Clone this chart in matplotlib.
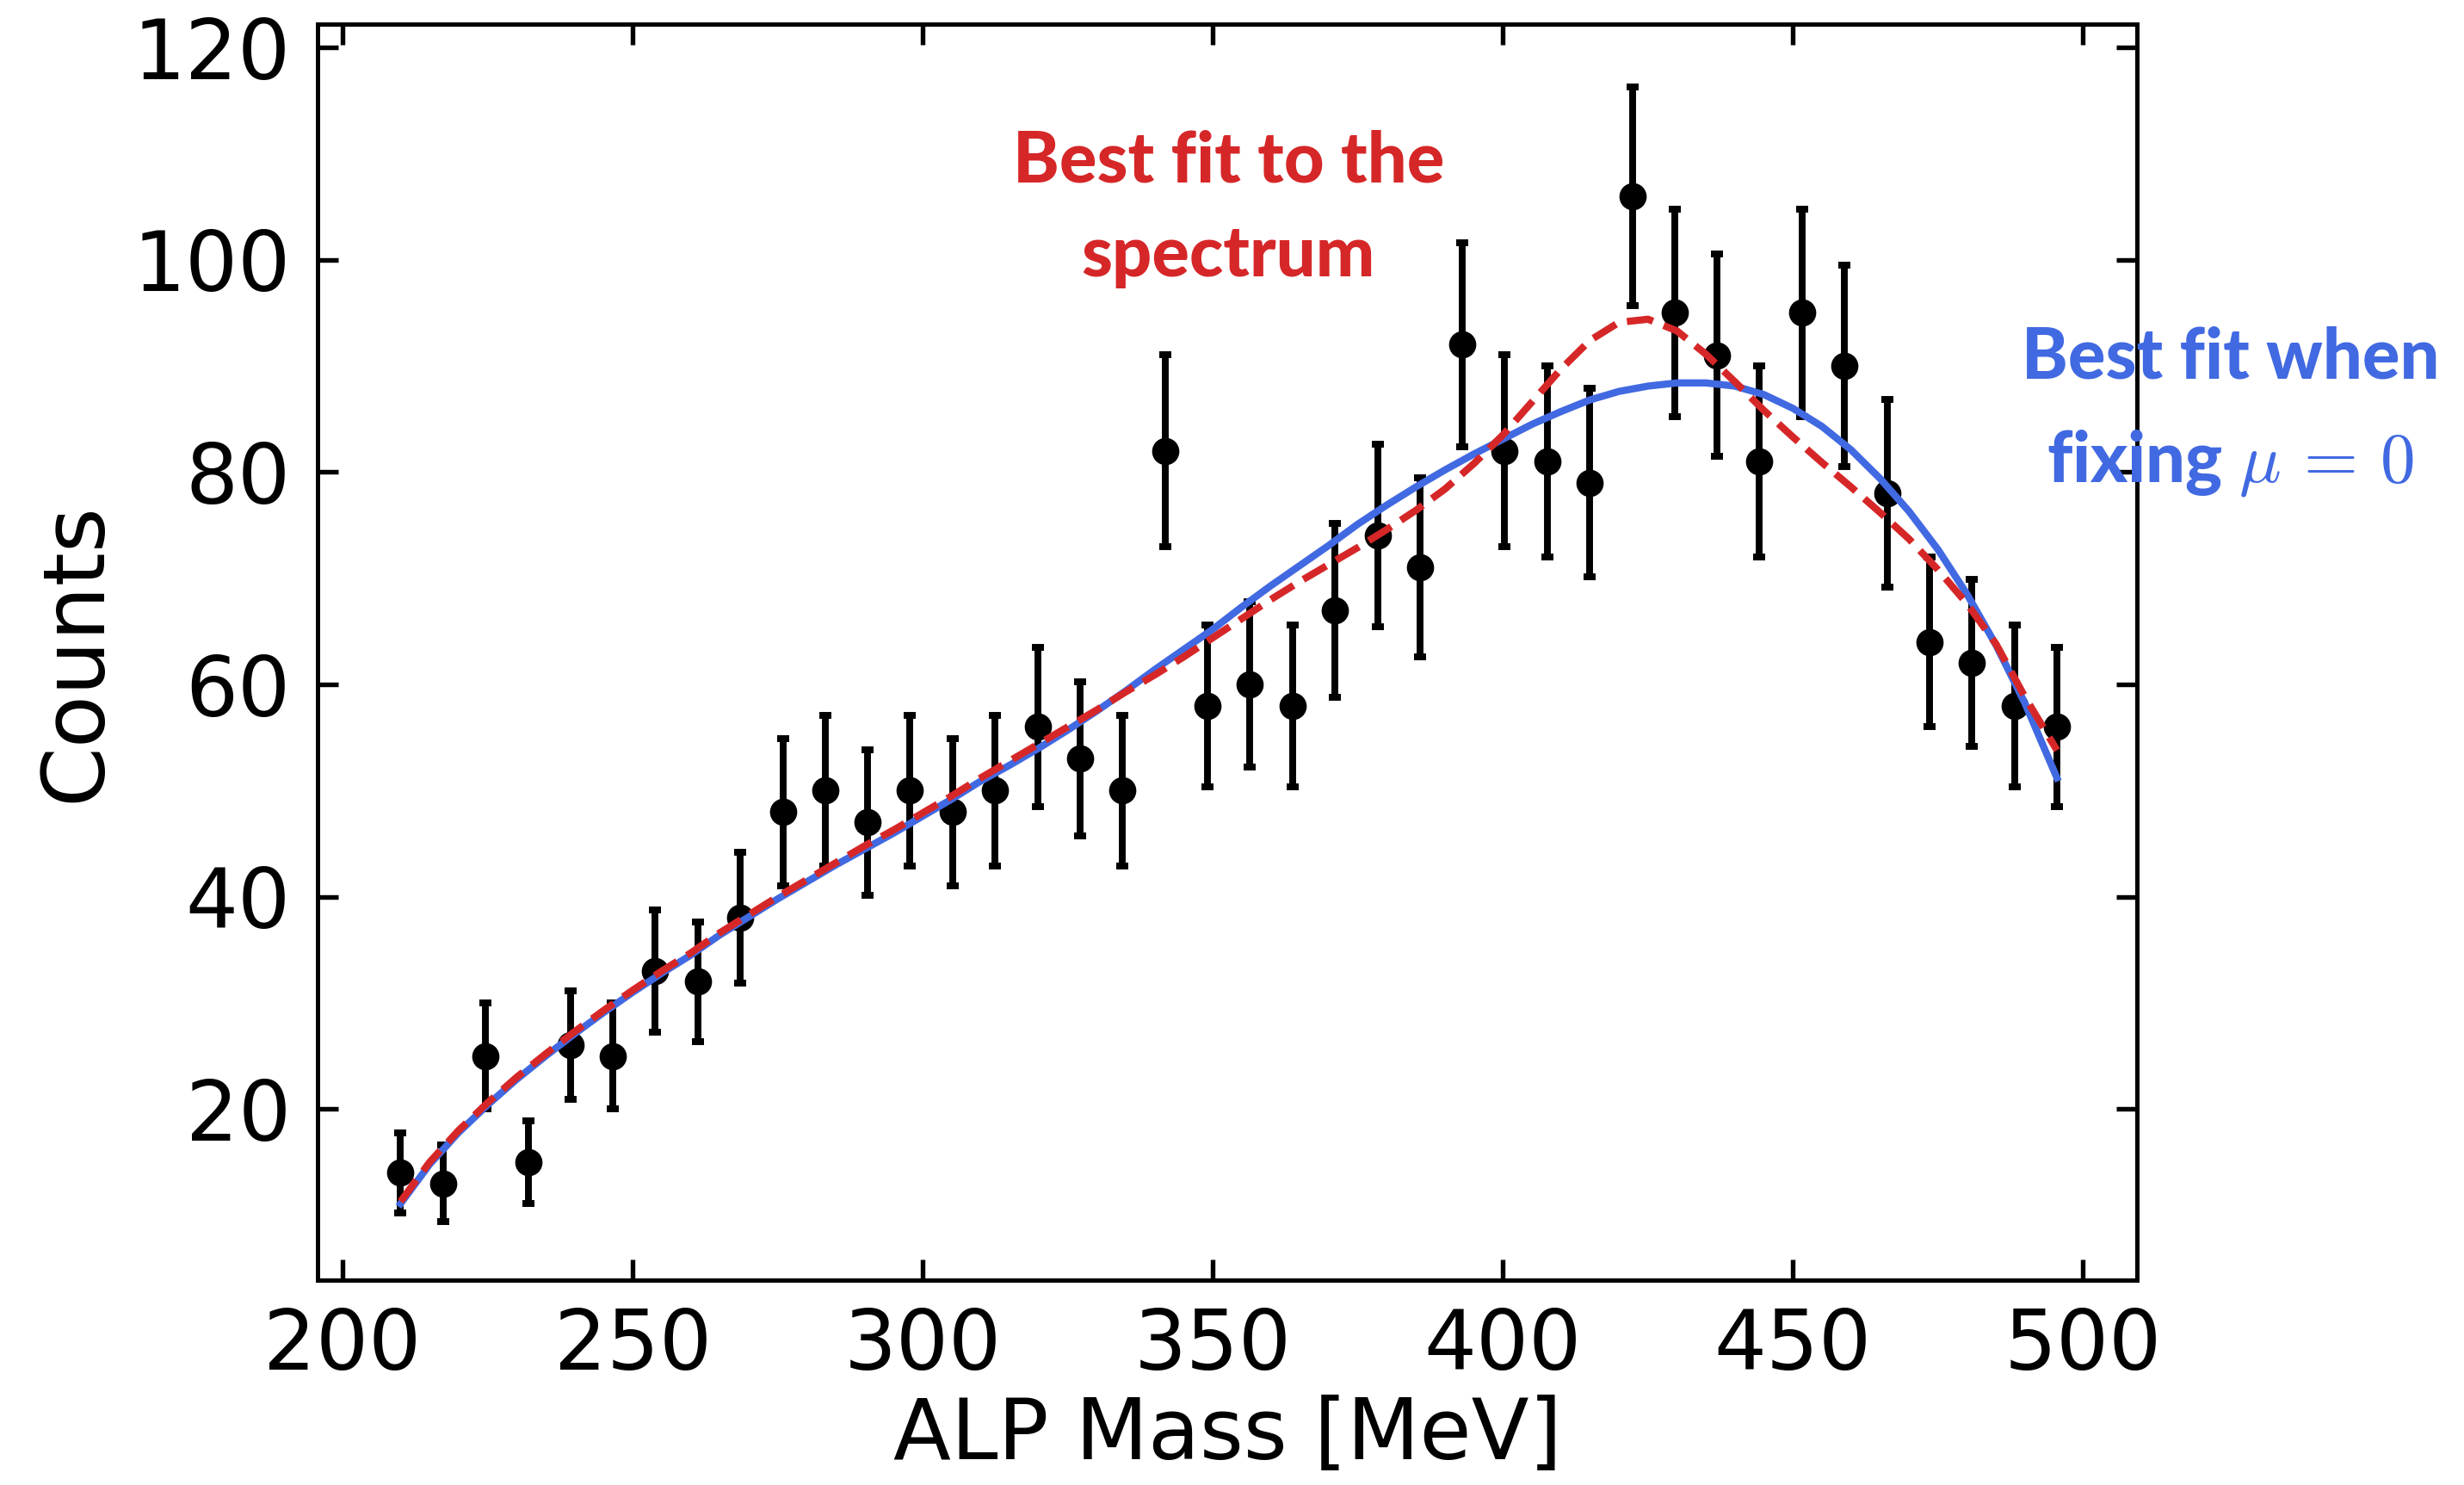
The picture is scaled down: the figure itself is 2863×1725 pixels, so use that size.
import matplotlib
matplotlib.use("Agg")
import matplotlib.pyplot as plt

plt.rcParams['mathtext.fontset'] = 'cm'

# binned spectrum
mass = [210.0, 217.3, 224.6, 232.0, 239.3, 246.6, 253.9, 261.2, 268.6, 275.9,
        283.2, 290.5, 297.8, 305.2, 312.5, 319.8, 327.1, 334.4, 341.8, 349.1,
        356.4, 363.7, 371.0, 378.4, 385.7, 393.0, 400.3, 407.6, 415.0, 422.3,
        429.6, 436.9, 444.2, 451.6, 458.9, 466.2, 473.5, 480.8, 488.2, 495.5]
counts = [14, 13, 25, 15, 26, 25, 33, 32, 38, 48,
          50, 47, 50, 48, 50, 56, 53, 50, 82, 58,
          60, 58, 67, 74, 71, 92, 82, 81, 79, 106,
          95, 91, 81, 95, 90, 78, 64, 62, 58, 56]
errors = [3.74, 3.61, 5.00, 3.87, 5.10, 5.00, 5.74, 5.66, 6.16, 6.93,
          7.07, 6.86, 7.07, 6.93, 7.07, 7.48, 7.28, 7.07, 9.06, 7.62,
          7.75, 7.62, 8.19, 8.60, 8.43, 9.59, 9.06, 9.00, 8.89, 10.30,
          9.75, 9.54, 9.00, 9.75, 9.49, 8.83, 8.00, 7.87, 7.62, 7.48]

# fit curves
fit_x = [210, 215, 220, 225, 230, 235, 240, 245, 250, 255,
         260, 265, 270, 275, 280, 285, 290, 295, 300, 305,
         310, 315, 320, 325, 330, 335, 340, 345, 350, 355,
         360, 365, 370, 375, 380, 385, 390, 395, 400, 405,
         410, 415, 420, 425, 430, 435, 440, 445, 450, 455,
         460, 465, 470, 475, 480, 485, 490, 495.5]
bkg_fit = [11.1, 14.8, 17.8, 20.4, 22.8, 25.0, 27.1, 29.1, 31.0, 32.8,
           34.5, 36.4, 38.1, 39.8, 41.4, 43.0, 44.5, 46.0, 47.6, 49.2,
           50.9, 52.4, 54.0, 55.7, 57.5, 59.4, 61.4, 63.3, 65.2, 67.3,
           69.3, 71.2, 73.1, 75.1, 76.9, 78.6, 80.2, 81.7, 83.1, 84.5,
           85.7, 86.8, 87.6, 88.1, 88.4, 88.4, 88.1, 87.3, 86.0, 84.3,
           82.1, 79.4, 76.3, 72.7, 68.5, 63.7, 58.2, 51.2]
best_fit = [11.3, 15.0, 18.0, 20.6, 23.0, 25.2, 27.3, 29.3, 31.2, 33.0,
            34.7, 36.6, 38.3, 40.0, 41.6, 43.2, 44.8, 46.3, 47.9, 49.5,
            51.2, 52.8, 54.4, 56.0, 57.6, 59.3, 60.9, 62.6, 64.4, 66.2,
            68.0, 69.7, 71.3, 72.9, 74.6, 76.4, 78.4, 80.8, 83.5, 86.6,
            89.7, 92.4, 94.1, 94.4, 93.3, 91.1, 88.5, 85.8, 83.3, 80.9,
            78.6, 76.2, 73.7, 70.8, 67.6, 63.8, 58.8, 53.8]

red = '#d62728'
blue = '#4169e1'

fig = plt.figure(figsize=(2863/300, 1725/300), dpi=300)
ax = fig.add_axes([0.1289, 0.138, 0.7384, 0.8458])

ax.errorbar(mass, counts, yerr=errors, fmt='o', color='k', ms=6.6,
            elinewidth=1.9, capsize=1.7, capthick=1.9, zorder=2)
ax.plot(fit_x, bkg_fit, color=blue, lw=2, zorder=3)
ax.plot(fit_x, best_fit, color=red, lw=2, ls='--', zorder=4)

ax.set_xlim(195.7, 509.3)
ax.set_ylim(3.9, 122.2)
ax.set_xticks([200, 250, 300, 350, 400, 450, 500])
ax.set_yticks([20, 40, 60, 80, 100, 120])
ax.tick_params(direction='in', top=True, right=True, length=5.8, width=1.3,
               labelsize=23, pad=7.5)
for s in ax.spines.values():
    s.set_linewidth(1.2)

ax.set_xlabel('ALP Mass [MeV]', fontsize=23.5, labelpad=2)
ax.set_ylabel('Counts', fontsize=24)

tkw = dict(ha='center', va='baseline', fontsize=19.5, fontweight='black',
           family='Lato', clip_on=False)
ax.text(352.7, 107.3, 'Best fit to the', color=red, **tkw)
ax.text(352.7, 98.4, 'spectrum', color=red, **tkw)
ax.text(525.4, 88.8, 'Best fit when', color=blue, **tkw)
ax.text(525.4, 79.1, r'fixing $\mu\,=\,0$', color=blue, **tkw)

fig.savefig('out.png', dpi=300)
